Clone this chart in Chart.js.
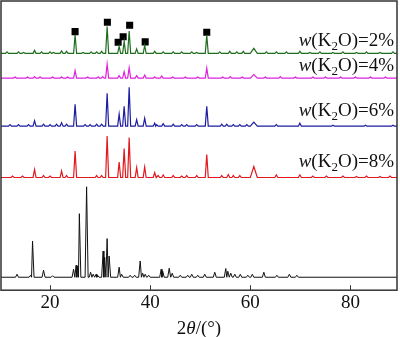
<!DOCTYPE html>
<html>
<head>
<meta charset="utf-8">
<script src="https://cdn.jsdelivr.net/npm/chart.js@4/dist/chart.umd.min.js"></script>
<style>
  html, body { margin: 0; padding: 0; background: #fff; }
  canvas { display: block; }
</style>
</head>
<body>
<canvas id="xrd" width="400" height="337"></canvas>
<script>
// ---- 2θ axis ----
const twoThetaMin = 10.2;
const twoThetaMax = 89.3;
const xTicks = [20, 40, 60, 80];

// ---- K2O-doped samples: main diffraction lines (2θ, °) ----
const dopedPeaks2Theta = [16.9, 22.3, 25.0, 31.4, 33.8, 34.8, 35.8, 37.3, 38.9, 40.9, 51.3, 60.7];
// intensities (a.u.) in the same order as dopedPeaks2Theta
const intensityW2 = [3, 2.5, 18.5, 27, 7, 12, 22.5, 4.5, 8, 2, 18, 5];
const intensityW4 = [1.5, 1, 7.5, 14, 2.5, 6.5, 10.5, 2.5, 3, 1, 10, 3.5];
const intensityW6 = [5.5, 3.5, 22, 33, 12, 20, 39, 6.5, 8, 3, 20, 4];
const intensityW8 = [8, 6.5, 26.5, 41.5, 15.5, 29, 40, 10, 10.5, 5, 23, 11];

// ---- weak reflections / background features of each doped sample ----
const minorW2Theta = [11.4, 13.7, 14.7, 18.3, 20.0, 20.7, 23.3, 26.6, 28.2, 29.3, 30.3, 42.6, 44.6, 46.3, 48.3, 49.3, 53.9, 55.9, 57.3, 58.6, 63.2, 65.2, 67.2, 69.9, 71.9, 73.9, 76.5, 78.5, 81.2, 83.2, 85.9, 88.5];
const minorW2Int   = [1.5, 1.5, 1, 1.5, 1.5, 1, 2, 1, 1.5, 1.5, 2, 1.5, 1.5, 1.5, 1.5, 1, 1.5, 2, 1.5, 2, 1.5, 1.5, 1.5, 2, 1, 1.5, 1, 1.5, 1, 1.5, 1, 1.5];
const minorW4Theta = [13.0, 15.5, 18.0, 20.5, 23.5, 27.5, 29.6, 30.5, 42.3, 44.5, 47.0, 49.5, 54.5, 56.0, 58.4, 63.0, 66.0, 69.0, 72.5, 75.0, 78.0, 81.0, 84.0, 87.0];
const minorW4Int   = [1, 1, 1, 1, 1, 1, 1, 1.5, 2, 1, 1, 1, 1, 1.5, 1, 1, 1.5, 1, 1, 1, 1, 1, 1, 1];
const minorW6Theta = [12.0, 13.7, 15.7, 18.7, 20.0, 21.3, 23.3, 27.0, 28.0, 29.3, 30.3, 41.3, 42.6, 44.6, 46.3, 47.3, 49.3, 54.3, 55.3, 56.6, 57.9, 59.3, 65.2, 69.9, 76.5, 83.0, 88.5];
const minorW6Int   = [1.5, 1.5, 1.5, 2, 1.5, 2, 2, 1.5, 1.5, 2, 2, 1.5, 2.5, 2, 1.5, 1.5, 1.5, 2, 2, 1.5, 1.5, 1.5, 1.5, 3, 1, 1, 1];
const minorW8Theta = [12.5, 14.5, 18.7, 20.0, 23.3, 29.3, 30.3, 41.6, 42.6, 44.6, 46.3, 47.3, 49.3, 54.3, 55.6, 56.6, 57.9, 65.2, 69.9, 72.5, 75.2, 78.5, 81.2, 83.2, 85.9, 87.9];
const minorW8Int   = [1.5, 1.5, 2, 1.5, 2, 2, 2, 2, 2.5, 2, 1.5, 2, 2, 2, 3, 2, 2, 2.5, 2.5, 1.5, 1.5, 1.5, 1, 1.5, 1, 1.5];

// ---- raw material (bottom pattern) ----
const rawPeaks2Theta = [13.4, 16.1, 16.5, 18.7, 20.5, 24.7, 25.2, 25.5, 25.85, 27.3, 28.1, 28.6, 29.2, 29.5, 30.6, 30.9, 31.4, 31.8, 33.8, 34.3, 36.0, 36.9, 38.0, 38.5, 39.0, 39.7, 42.2, 42.5, 43.8, 44.4, 46.0, 47.5, 48.3, 49.5, 50.9, 52.9, 55.1, 55.5, 56.1, 56.9, 58.0, 59.5, 60.4, 62.7, 65.3, 67.8, 69.3];
const rawIntensity   = [3, 2, 36.3, 7, 1.5, 8, 12, 11, 63.7, 90.7, 5, 3, 3, 2, 26.3, 20, 38.7, 21.3, 10, 3, 2, 2, 16.3, 4, 3, 2, 8, 6, 9, 4, 2, 2, 3, 2, 3, 5, 8.7, 6, 4, 3, 3, 2, 3, 5, 2, 3, 2];

// ---- phase markers (■) above the w(K2O)=2% pattern ----
const marker2Theta    = [25.0, 31.45, 33.6, 34.6, 35.9, 39.0, 51.3];
const markerIntensity = [21.8, 31.2, 11.2, 16.6, 28.2, 11.5, 21.2];

// ---- sample names ----
const sampleFractions = ['2', '4', '6', '8'];

// ---- drawing layout ----
const stackOffset = { raw: 13, w8: 113, w6: 164.5, w4: 212.7, w2: 237.5 };
const peakHalfWidth = 0.3;
const broadHalfWidth = { 60.7: 0.7 };
const serif = '"Liberation Serif", "Times New Roman", serif';
const labelRight = 394;
const labelBaselines = [46, 71, 116, 167];

function zipPeaks(pos, h) {
  return pos.map((p, i) => [p, h[i]]);
}

// build a stick-like diffraction profile sitting on a baseline
function profile(peaks, base) {
  const list = peaks.slice().sort((a, b) => a[0] - b[0]);
  const pts = [{ x: twoThetaMin, y: base }];
  list.forEach((p, i) => {
    const hw = broadHalfWidth[p[0]] || peakHalfWidth;
    const prev = i > 0 ? list[i - 1][0] : -Infinity;
    const next = i < list.length - 1 ? list[i + 1][0] : Infinity;
    const l = Math.max(p[0] - hw, (prev + p[0]) / 2);
    const r = Math.min(p[0] + hw, (p[0] + next) / 2);
    pts.push({ x: l, y: base }, { x: p[0], y: base + p[1] }, { x: r, y: base });
  });
  pts.push({ x: twoThetaMax, y: base });
  return pts;
}

function lineSet(data, color, width) {
  return {
    data, borderColor: color, borderWidth: width || 1,
    pointRadius: 0, tension: 0, fill: false
  };
}

const datasets = [
  lineSet(profile(zipPeaks(rawPeaks2Theta, rawIntensity), stackOffset.raw), '#111111'),
  lineSet(profile(zipPeaks(dopedPeaks2Theta, intensityW8).concat(zipPeaks(minorW8Theta, minorW8Int)), stackOffset.w8), '#e0191e', 1.2),
  lineSet(profile(zipPeaks(dopedPeaks2Theta, intensityW6).concat(zipPeaks(minorW6Theta, minorW6Int)), stackOffset.w6), '#1c1ca0', 1.2),
  lineSet(profile(zipPeaks(dopedPeaks2Theta, intensityW4).concat(zipPeaks(minorW4Theta, minorW4Int)), stackOffset.w4), '#dd22dd', 1.2),
  lineSet(profile(zipPeaks(dopedPeaks2Theta, intensityW2).concat(zipPeaks(minorW2Theta, minorW2Int)), stackOffset.w2), '#1f6e1f', 1.2),
  {
    data: marker2Theta.map((t, i) => ({ x: t, y: stackOffset.w2 + markerIntensity[i] })),
    showLine: false, pointStyle: 'rect', pointRadius: 5, pointHoverRadius: 5,
    backgroundColor: '#000', borderWidth: 0
  }
];

// frame, inward ticks, sample names and axis title
const decorations = {
  id: 'decorations',
  afterDatasetsDraw(chart) {
    const { ctx, chartArea: a, scales: { x } } = chart;
    ctx.save();
    ctx.strokeStyle = '#333';
    ctx.lineWidth = 1.5;
    ctx.strokeRect(a.left, a.top, a.right - a.left, a.bottom - a.top);
    ctx.lineWidth = 1;
    ctx.beginPath();
    xTicks.forEach(v => {
      const px = Math.round(x.getPixelForValue(v)) + 0.5;
      ctx.moveTo(px, a.bottom);
      ctx.lineTo(px, a.bottom - 5);
    });
    ctx.stroke();

    ctx.fillStyle = '#111';
    ctx.textBaseline = 'alphabetic';
    ctx.textAlign = 'left';
    sampleFractions.forEach((f, i) => {
      const parts = [
        { t: 'w', f: 'italic 19px ' + serif, dy: 0 },
        { t: '(K', f: '19px ' + serif, dy: 0 },
        { t: '2', f: '13px ' + serif, dy: 4 },
        { t: 'O)=' + f + '%', f: '19px ' + serif, dy: 0 }
      ];
      let w = 0;
      parts.forEach(p => { ctx.font = p.f; w += ctx.measureText(p.t).width; });
      let cx = labelRight - w;
      parts.forEach(p => {
        ctx.font = p.f;
        ctx.fillText(p.t, cx, labelBaselines[i] + p.dy);
        cx += ctx.measureText(p.t).width;
      });
    });

    const title = [
      { t: '2', f: '19px ' + serif },
      { t: 'θ', f: 'italic 19px ' + serif },
      { t: '/(°)', f: '19px ' + serif }
    ];
    let tw = 0;
    title.forEach(p => { ctx.font = p.f; tw += ctx.measureText(p.t).width; });
    let tx = (a.left + a.right) / 2 - tw / 2;
    title.forEach(p => {
      ctx.font = p.f;
      ctx.fillText(p.t, tx, 334);
      tx += ctx.measureText(p.t).width;
    });
    ctx.restore();
  }
};

new Chart(document.getElementById('xrd'), {
  type: 'line',
  data: { datasets },
  options: {
    responsive: false,
    animation: false,
    devicePixelRatio: 1,
    layout: { autoPadding: false, padding: { left: 1, right: 3, top: 1, bottom: 22 } },
    plugins: { legend: { display: false }, tooltip: { enabled: false } },
    scales: {
      x: {
        type: 'linear',
        min: twoThetaMin,
        max: twoThetaMax,
        afterBuildTicks: axis => { axis.ticks = xTicks.map(v => ({ value: v })); },
        grid: { display: false, drawTicks: false },
        border: { display: false },
        ticks: {
          padding: 1,
          color: '#111',
          font: { family: serif, size: 19 },
          maxRotation: 0,
          autoSkip: false
        }
      },
      y: { display: false, min: 0, max: 290 }
    }
  },
  plugins: [decorations]
});
</script>
</body>
</html>
